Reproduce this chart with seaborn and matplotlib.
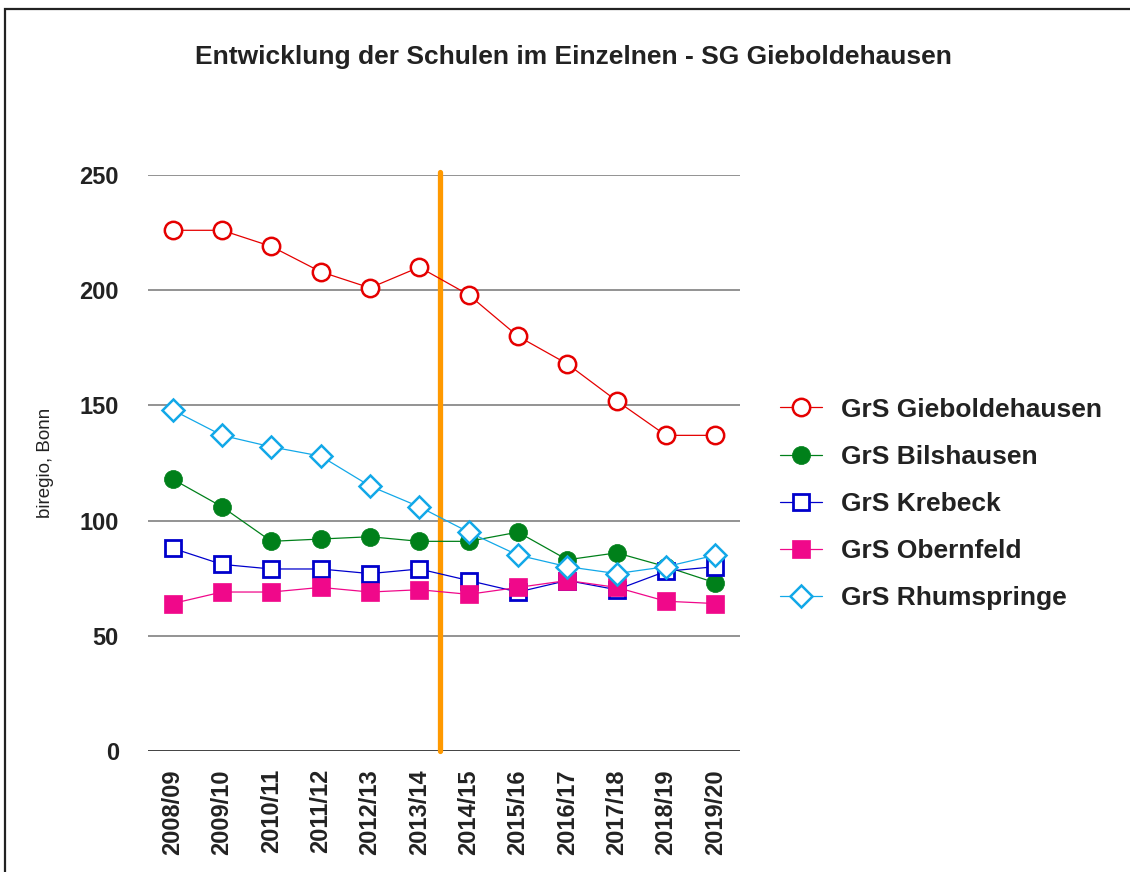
import matplotlib
matplotlib.use("Agg")
import matplotlib.pyplot as plt
import seaborn as sns
import pandas as pd
from matplotlib.patches import Rectangle

years = ["2008/09", "2009/10", "2010/11", "2011/12", "2012/13", "2013/14",
         "2014/15", "2015/16", "2016/17", "2017/18", "2018/19", "2019/20"]
gieboldehausen = [226, 226, 219, 208, 201, 210, 198, 180, 168, 152, 137, 137]
bilshausen = [118, 106, 91, 92, 93, 91, 91, 95, 83, 86, 80, 73]
krebeck = [88, 81, 79, 79, 77, 79, 74, 69, 74, 70, 78, 80]
obernfeld = [64, 69, 69, 71, 69, 70, 68, 71, 74, 71, 65, 64]
rhumspringe = [148, 137, 132, 128, 115, 106, 95, 85, 80, 77, 80, 85]
series_names = ["GrS Gieboldehausen", "GrS Bilshausen", "GrS Krebeck",
                "GrS Obernfeld", "GrS Rhumspringe"]
y_ticks = [0, 50, 100, 150, 200, 250]

sns.set_theme(style="white")
plt.rcParams["font.family"] = ["Liberation Sans", "DejaVu Sans"]

fig = plt.figure(figsize=(11.3, 8.72), dpi=100)
ax = fig.add_axes([148 / 1130, 1 - 751 / 872, (740 - 148) / 1130, (751 - 175) / 872])

styles = [
    dict(color="#E50000", marker="o", markerfacecolor="white", markeredgecolor="#E50000", markersize=12.5, markeredgewidth=1.8),
    dict(color="#00801A", marker="o", markerfacecolor="#00801A", markeredgecolor="#00801A", markersize=13, markeredgewidth=0.5),
    dict(color="#0000CC", marker="s", markerfacecolor="white", markeredgecolor="#0000CC", markersize=12, markeredgewidth=2),
    dict(color="#F0088A", marker="s", markerfacecolor="#F0088A", markeredgecolor="#F0088A", markersize=12.5, markeredgewidth=0.5),
    dict(color="#12A8E8", marker="D", markerfacecolor="white", markeredgecolor="#12A8E8", markersize=11.5, markeredgewidth=1.8),
]
data = [gieboldehausen, bilshausen, krebeck, obernfeld, rhumspringe]

for i, (name, vals, st) in enumerate(zip(series_names, data, styles)):
    df = pd.DataFrame({"Jahr": years, "Schueler": vals})
    sns.lineplot(data=df, x="Jahr", y="Schueler", ax=ax, label=name,
                 linewidth=0.9, sort=False, zorder=3 + i, clip_on=False, **st)

ax.set_xlim(-0.5, len(years) - 0.5)
ax.set_ylim(0, 250)
ax.set_yticks(y_ticks)
ax.grid(False)
for t in y_ticks[1:]:
    ax.axhline(t, color="#8a8a8a", linewidth=1.3, zorder=1)
ax.axhline(0, color="#333333", linewidth=1.3, zorder=1)
for s in ax.spines.values():
    s.set_visible(False)

ax.axvline(5.42, ymin=0, ymax=1.006, color="#FF9900", linewidth=3.8, zorder=2, clip_on=False)

ax.tick_params(axis="y", length=0, pad=21, labelsize=17, labelcolor="#222222")
ax.tick_params(axis="x", length=0, pad=13, labelsize=17, labelcolor="#222222", labelrotation=90)
for lab in ax.get_xticklabels() + ax.get_yticklabels():
    lab.set_fontweight("bold")
for lab in ax.get_xticklabels():
    lab.set_verticalalignment("top")

ax.set_xlabel("")
ax.set_ylabel("")
fig.text(45 / 1130, 1 - 463 / 872, "biregio, Bonn", rotation=90, fontsize=13.5,
         color="#222222", ha="center", va="center")

fig.text(573 / 1130, 1 - 57 / 872, "Entwicklung der Schulen im Einzelnen - SG Gieboldehausen",
         fontsize=19, fontweight="bold", color="#222222", ha="center", va="center")

leg = ax.legend(loc="center left", bbox_to_anchor=(780 / 1130, 1 - 504 / 872),
                bbox_transform=fig.transFigure, frameon=False, borderpad=0, borderaxespad=0,
                handlelength=1.6, handletextpad=0.7, labelspacing=0.88, numpoints=1,
                prop={"weight": "bold", "size": 19})
for t in leg.get_texts():
    t.set_color("#222222")

fig.patches.append(Rectangle((5 / 1130, -0.2), 1.5, 1.2 - 9 / 872, transform=fig.transFigure,
                             fill=False, edgecolor="#222222", linewidth=1.6, figure=fig))

fig.savefig("out.png", dpi=100)
